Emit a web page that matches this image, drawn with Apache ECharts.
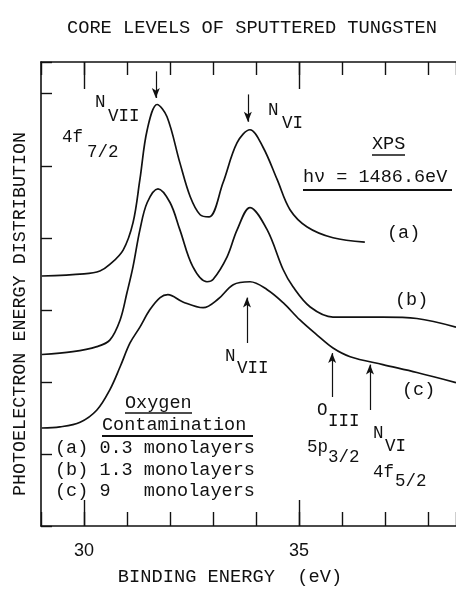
<!DOCTYPE html>
<html>
<head>
<meta charset="utf-8">
<script src="https://cdn.jsdelivr.net/npm/echarts@6/dist/echarts.min.js"></script>
<style>
  html, body { margin: 0; padding: 0; background: #fff; }
  #main { width: 456px; height: 590px; }
</style>
</head>
<body>
<div id="main"></div>
<script>
// binding energy (eV) and intensity (arb. units, 1 unit = one left-axis tick)
var energyA = [29.02, 30.0, 30.37, 30.60, 30.91, 31.14, 31.30, 31.47, 31.70, 31.93, 32.23, 32.47, 32.70, 32.91, 33.23, 33.56, 33.86, 34.16, 34.49, 34.79, 35.19, 35.79, 36.53];
var countsA = [3.47, 3.50, 3.54, 3.63, 3.83, 4.21, 4.81, 5.50, 5.85, 5.68, 5.04, 4.57, 4.32, 4.29, 4.76, 5.32, 5.50, 5.26, 4.81, 4.39, 4.15, 4.00, 3.94];

var energyB = [29.02, 29.74, 30.30, 30.60, 30.84, 31.00, 31.14, 31.30, 31.47, 31.72, 32.00, 32.23, 32.53, 32.86, 33.00, 33.33, 33.56, 33.86, 34.26, 34.63, 34.86, 35.26, 35.79, 36.19, 36.95, 37.74, 38.65];
var countsB = [2.38, 2.42, 2.49, 2.58, 2.86, 3.24, 3.60, 4.11, 4.49, 4.68, 4.49, 4.11, 3.60, 3.39, 3.42, 3.74, 4.11, 4.42, 4.11, 3.56, 3.32, 3.04, 2.90, 2.90, 2.90, 2.88, 2.76];

var energyC = [29.02, 29.44, 29.91, 30.30, 30.60, 30.84, 31.07, 31.30, 31.53, 31.77, 31.95, 32.30, 32.77, 33.12, 33.47, 33.86, 34.26, 34.63, 35.02, 35.42, 35.79, 36.19, 36.95, 37.74, 38.65];
var countsC = [1.36, 1.375, 1.44, 1.61, 1.89, 2.21, 2.54, 2.76, 3.00, 3.17, 3.21, 3.11, 3.03, 3.15, 3.35, 3.39, 3.28, 3.10, 2.86, 2.65, 2.47, 2.35, 2.24, 2.13, 1.99];

// arrows marking the core levels
var arrowEnergy = [31.67, 33.81, 33.79, 35.77, 36.65];
var arrowFrom = [6.31, 5.99, 2.54, 1.79, 1.61];
var arrowTo = [5.94, 5.61, 3.17, 2.40, 2.24];

// labelled (long) ticks on the energy axis
var xTickLabels = [30, 35];

var ink = '#111';
var mono = '"Liberation Mono", monospace';

function pairs(xs, ys) {
    return xs.map(function (x, i) { return [x, ys[i]]; });
}

var arrows = arrowEnergy.map(function (x, i) {
    return [{ coord: [x, arrowFrom[i]] }, { coord: [x, arrowTo[i]] }];
});

function txt(x, y, s, size, align) {
    return {
        type: 'text', silent: true,
        style: {
            x: x, y: y, text: s, fill: ink,
            font: (size || 18) + 'px ' + mono,
            textAlign: align || 'left', textVerticalAlign: 'middle'
        }
    };
}
function rule(x1, x2, y, w) {
    return {
        type: 'line', silent: true,
        shape: { x1: x1, y1: y, x2: x2, y2: y },
        style: { stroke: ink, lineWidth: w || 1.5 }
    };
}

var graphics = [
    txt(252, 28, 'CORE LEVELS OF SPUTTERED TUNGSTEN', 18.7, 'center'),
    txt(230, 577, 'BINDING ENERGY  (eV)', 18.7, 'center'),
    {
        type: 'text', silent: true, x: 20, y: 314, rotation: Math.PI / 2,
        style: {
            x: 0, y: 0, text: 'PHOTOELECTRON ENERGY DISTRIBUTION', fill: ink,
            font: '18.4px ' + mono, textAlign: 'center', textVerticalAlign: 'middle'
        }
    },
    txt(95, 102, 'N', 17.5), txt(108, 116, 'VII', 17.5),
    txt(62, 137, '4f', 17.5), txt(87, 152, '7/2', 17.5),
    txt(268, 110, 'N', 17.5), txt(282, 123, 'VI', 17.5),
    txt(372, 144, 'XPS', 18.5), rule(372, 405, 155, 1.5),
    txt(303, 177, 'h\u03bd = 1486.6eV', 18.5), rule(303, 452, 190, 2),
    txt(387, 233, '(a)', 18.5),
    txt(395, 300, '(b)', 18.5),
    txt(402, 390, '(c)', 18.5),
    txt(225, 356, 'N', 17.5), txt(237, 368, 'VII', 17.5),
    txt(317, 410, 'O', 17.5), txt(328, 421, 'III', 17.5),
    txt(307, 447, '5p', 17.5), txt(328, 457, '3/2', 17.5),
    txt(373, 433, 'N', 17.5), txt(385, 446, 'VI', 17.5),
    txt(373, 472, '4f', 17.5), txt(395, 481, '5/2', 17.5),
    txt(125, 403, 'Oxygen', 18.5), rule(125, 192, 413, 1.5),
    txt(102, 425, 'Contamination', 18.5), rule(102, 253, 436, 2),
    txt(55, 448, '(a) 0.3 monolayers', 18.5),
    txt(55, 470, '(b) 1.3 monolayers', 18.5),
    txt(55, 491, '(c) 9   monolayers', 18.5)
];

// short ticks every 1 eV, drawn with the axis line
function xMinor(pos, len) {
    return {
        type: 'value', position: pos, min: 29, max: 38.65, interval: 1,
        axisLine: { show: true, onZero: false, lineStyle: { color: ink, width: 1.6 } },
        axisTick: { show: true, inside: true, length: len, lineStyle: { color: ink, width: 1.4 } },
        axisLabel: { show: false },
        splitLine: { show: false }
    };
}
// long ticks at the labelled energies
function xMajor(pos, len, showLabel) {
    return {
        type: 'value', position: pos, min: 29, max: 38.65,
        axisLine: { show: false },
        axisTick: { show: true, inside: true, length: len, customValues: xTickLabels,
                    lineStyle: { color: ink, width: 1.4 } },
        axisLabel: {
            show: showLabel, margin: 16, color: ink, customValues: xTickLabels,
            fontFamily: '"Liberation Sans", sans-serif', fontSize: 18
        },
        splitLine: { show: false }
    };
}

var option = {
    backgroundColor: '#fff',
    animation: false,
    grid: { left: 41, right: 0, top: 62, bottom: 64 },
    xAxis: [
        xMinor('bottom', 14),
        xMajor('bottom', 26, true),
        xMinor('top', 13),
        xMajor('top', 27, false)
    ],
    yAxis: {
        type: 'value', min: 0, max: 6.44, interval: 1,
        axisLine: { show: true, lineStyle: { color: ink, width: 1.6 } },
        axisTick: { show: true, inside: true, length: 11, lineStyle: { color: ink, width: 1.4 } },
        axisLabel: { show: false },
        splitLine: { show: false }
    },
    series: [
        { type: 'line', data: pairs(energyA, countsA), smooth: 0.35, showSymbol: false,
          lineStyle: { color: ink, width: 1.7 } },
        { type: 'line', data: pairs(energyB, countsB), smooth: 0.35, showSymbol: false,
          lineStyle: { color: ink, width: 1.7 } },
        { type: 'line', data: pairs(energyC, countsC), smooth: 0.35, showSymbol: false,
          lineStyle: { color: ink, width: 1.7 },
          markLine: {
              silent: true, symbol: ['none', 'arrow'], symbolSize: [6, 10],
              label: { show: false },
              lineStyle: { color: ink, width: 1.2, type: 'solid' },
              data: arrows
          } }
    ],
    graphic: graphics
};

var myChart = echarts.init(document.getElementById('main'));
myChart.setOption(option);
window.addEventListener('resize', function () { myChart.resize(); });
</script>
</body>
</html>
